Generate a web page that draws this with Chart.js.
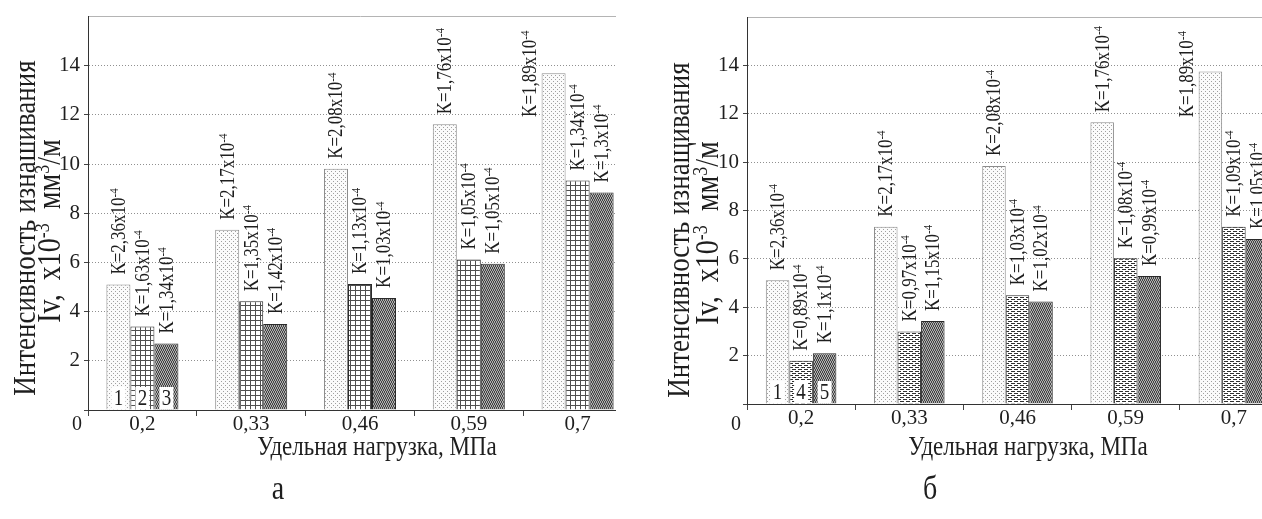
<!DOCTYPE html>
<html>
<head>
<meta charset="utf-8">
<script src="https://cdn.jsdelivr.net/npm/chart.js@4.4.0/dist/chart.umd.min.js"></script>
<style>
  html, body { margin: 0; padding: 0; background: #fff; overflow: hidden; width: 1262px; height: 519px; }
  .wrap { position: absolute; top: 0; height: 519px; overflow: hidden; }
  #wrapA { left: 0; width: 616px; }
  #wrapB { left: 630px; width: 632px; }
  .box { height: 519px; position: relative; }
  canvas { display: block; }
</style>
</head>
<body>
<div class="wrap" id="wrapA"><div class="box" style="width:660px"><canvas id="chartA"></canvas></div></div>
<div class="wrap" id="wrapB"><div class="box" style="width:680px"><canvas id="chartB"></canvas></div></div>
<script>
// categories: specific load, MPa
const loads = ['0,2', '0,33', '0,46', '0,59', '0,7'];
const yTickValues = [2, 4, 6, 8, 10, 12, 14];

// chart "а": wear intensity Iv, x10^-3 mm3/m
const wearA1 = [5.1, 7.33, 9.81, 11.62, 13.7];
const wearA2 = [3.4, 4.42, 5.12, 6.12, 9.33];
const wearA3 = [2.7, 3.5, 4.56, 5.95, 8.85];
const coefA1 = ['2,36', '2,17', '2,08', '1,76', '1,89'];
const coefA2 = ['1,63', '1,35', '1,13', '1,05', '1,34'];
const coefA3 = ['1,34', '1,42', '1,03', '1,05', '1,3'];
const numsA = ['1', '2', '3'];

// chart "б"
const wearB1 = [5.12, 7.33, 9.84, 11.65, 13.75];
const wearB4 = [1.79, 3.0, 4.5, 6.03, 7.33];
const wearB5 = [2.1, 3.43, 4.24, 5.29, 6.82];
const coefB1 = ['2,36', '2,17', '2,08', '1,76', '1,89'];
const coefB4 = ['0,89', '0,97', '1,03', '1,08', '1,09'];
const coefB5 = ['1,1', '1,15', '1,02', '0,99', '1,05'];
const numsB = ['1', '4', '5'];

const FONT = "'Liberation Serif', 'Times New Roman', serif";
const INK = '#1e1e1e';
const STRETCH = 1.2; // the scanned lettering is taller than Liberation Serif

function makePattern(w, h, bg, fg, pix) {
    const c = document.createElement('canvas');
    c.width = w; c.height = h;
    const g = c.getContext('2d');
    g.fillStyle = bg; g.fillRect(0, 0, w, h);
    g.fillStyle = fg;
    pix.forEach(p => g.fillRect(p[0], p[1], 1, 1));
    return g.createPattern(c, 'repeat');
}
const patDots = makePattern(4, 4, '#fbfbfb', '#a0a0a0', [[1, 1], [3, 3]]);
const patGrid = makePattern(5, 5, '#ffffff', '#505050', [[0, 0], [1, 0], [2, 0], [3, 0], [4, 0], [0, 1], [0, 2], [0, 3], [0, 4]]);
const patWave = makePattern(4, 4, '#b0b0b0', '#444444', [[0, 0], [2, 0], [1, 1], [3, 1], [1, 2], [3, 2], [0, 3], [2, 3]]);
const patDash = makePattern(6, 4, '#ffffff', '#333333', [[0, 1], [1, 1], [2, 1], [3, 1], [3, 3], [4, 3], [5, 3], [0, 3]]);

function richWidth(ctx, parts, size, sup) {
    let w = 0;
    parts.forEach(p => { ctx.font = (p.sup ? sup : size) + 'px ' + FONT; w += ctx.measureText(p.t).width; });
    return w;
}
function drawRich(ctx, parts, x, y, size, sup) {
    let cx = x;
    parts.forEach(p => {
        ctx.font = (p.sup ? sup : size) + 'px ' + FONT;
        ctx.fillText(p.t, cx, p.sup ? y - size * 0.24 : y);
        cx += ctx.measureText(p.t).width;
    });
}
function drawRotCentered(ctx, parts, x, y, size, sup) {
    const w = richWidth(ctx, parts, size, sup);
    ctx.save();
    ctx.translate(x, y);
    ctx.rotate(-Math.PI / 2);
    ctx.scale(1, STRETCH);
    drawRich(ctx, parts, -w / 2, 0, size, sup);
    ctx.restore();
}
function drawTall(ctx, text, x, y, size) {
    ctx.save();
    ctx.translate(x, y);
    ctx.scale(1, STRETCH);
    ctx.font = size + 'px ' + FONT;
    ctx.fillText(text, 0, 0);
    ctx.restore();
}

const decor = {
    id: 'decor',
    afterDatasetsDraw(chart, args, o) {
        const ctx = chart.ctx, area = chart.chartArea;
        ctx.save();
        ctx.fillStyle = INK;
        ctx.textBaseline = 'middle';
        ctx.textAlign = 'left';
        chart.data.datasets.forEach((ds, i) => {
            const meta = chart.getDatasetMeta(i);
            meta.data.forEach((bar, j) => {
                const parts = [{ t: 'K=' + ds.coef[j] + 'x10' }, { t: '-4', sup: true }];
                const len = richWidth(ctx, parts, 17, 11);
                let x = bar.x, start = bar.y - 10;
                if (start - len < area.top + 4) {
                    x -= bar.width;
                    start = area.top + 14 + len;
                }
                ctx.save();
                ctx.translate(x + 1, start);
                ctx.rotate(-Math.PI / 2);
                ctx.scale(1, STRETCH);
                drawRich(ctx, parts, 0, 0, 17, 11);
                ctx.restore();
            });
            const b = meta.data[0];
            ctx.fillStyle = '#fff';
            ctx.fillRect(b.x - 7, area.bottom - 23, 14, 22);
            ctx.fillStyle = INK;
            ctx.textAlign = 'center';
            drawTall(ctx, ds.num, b.x, area.bottom - 11, 19);
            ctx.textAlign = 'left';
        });

        // y axis title
        drawRotCentered(ctx, [{ t: o.yLine1 }], o.yX1, o.yMid, 27, 17);
        drawRotCentered(ctx, [{ t: 'Iv,  x10' }, { t: '-3', sup: true }, { t: '  мм' }, { t: '3', sup: true }, { t: '/м' }],
            o.yX2, o.yMid + 3, 28, 18);

        ctx.textAlign = 'center';
        ctx.font = '20px ' + FONT;
        ctx.fillText('0', area.left - 11, 425);
        drawTall(ctx, 'Удельная нагрузка, МПа', o.xTitleX, 448, 23);
        drawTall(ctx, o.letter, o.letterX, 490, 28);
        ctx.restore();
    }
};

function buildChart(id, sets, layoutPad, xHeight, decorOpts) {
    const isTop = c => c.tick && c.tick.value === 16;
    return new Chart(document.getElementById(id), {
        type: 'bar',
        data: { labels: loads, datasets: sets },
        options: {
            responsive: true,
            maintainAspectRatio: false,
            animation: false,
            layout: { padding: layoutPad },
            plugins: { legend: { display: false }, tooltip: { enabled: false }, decor: decorOpts },
            scales: {
                x: {
                    grid: { offset: true, drawOnChartArea: false, tickLength: 6, tickColor: '#444', color: '#444' },
                    border: { color: '#333', width: 1 },
                    ticks: { font: { family: FONT, size: 21 }, color: INK, padding: -4, maxRotation: 0, autoSkip: false },
                    afterFit: s => { s.height = xHeight; }
                },
                y: {
                    min: 0, max: 16,
                    ticks: {
                        stepSize: 2, padding: 4, color: INK,
                        font: { family: FONT, size: 21 },
                        callback: v => yTickValues.includes(v) ? String(v) : ''
                    },
                    grid: {
                        color: c => isTop(c) ? '#b4b4b4' : '#909090',
                        tickLength: 4,
                        tickColor: c => isTop(c) ? 'rgba(0,0,0,0)' : '#444'
                    },
                    border: { color: '#333', width: 1, dash: c => isTop(c) ? [] : [1, 2] },
                    afterFit: s => { s.width = layoutPad.axisX; }
                }
            }
        },
        plugins: [decor]
    });
}

function ds(data, coef, num, fill, border, pct) {
    return { data, coef, num, backgroundColor: fill, borderColor: border, borderWidth: 1,
        barPercentage: 1, categoryPercentage: pct };
}

buildChart('chartA', [
    ds(wearA1, coefA1, numsA[0], patDots, '#8c8c8c', 0.662),
    ds(wearA2, coefA2, numsA[1], patGrid, '#2a2a2a', 0.662),
    ds(wearA3, coefA3, numsA[2], patWave, '#2a2a2a', 0.662)
], { left: 0, top: 16, right: 28, bottom: 0, axisX: 88 }, 109, {
    yLine1: 'Интенсивность изнашивания', yX1: 26, yX2: 51, yMid: 228,
    xTitleX: 377, letter: 'а', letterX: 278
});

buildChart('chartB', [
    ds(wearB1, coefB1, numsB[0], patDots, '#8c8c8c', 0.652),
    ds(wearB4, coefB4, numsB[1], patDash, '#2a2a2a', 0.652),
    ds(wearB5, coefB5, numsB[2], patWave, '#2a2a2a', 0.652)
], { left: 0, top: 17, right: 22, bottom: 0, axisX: 117 }, 115, {
    yLine1: 'Интенсивность изнащивания', yX1: 50, yX2: 79, yMid: 230,
    xTitleX: 398, letter: 'б', letterX: 300
});
</script>
</body>
</html>
